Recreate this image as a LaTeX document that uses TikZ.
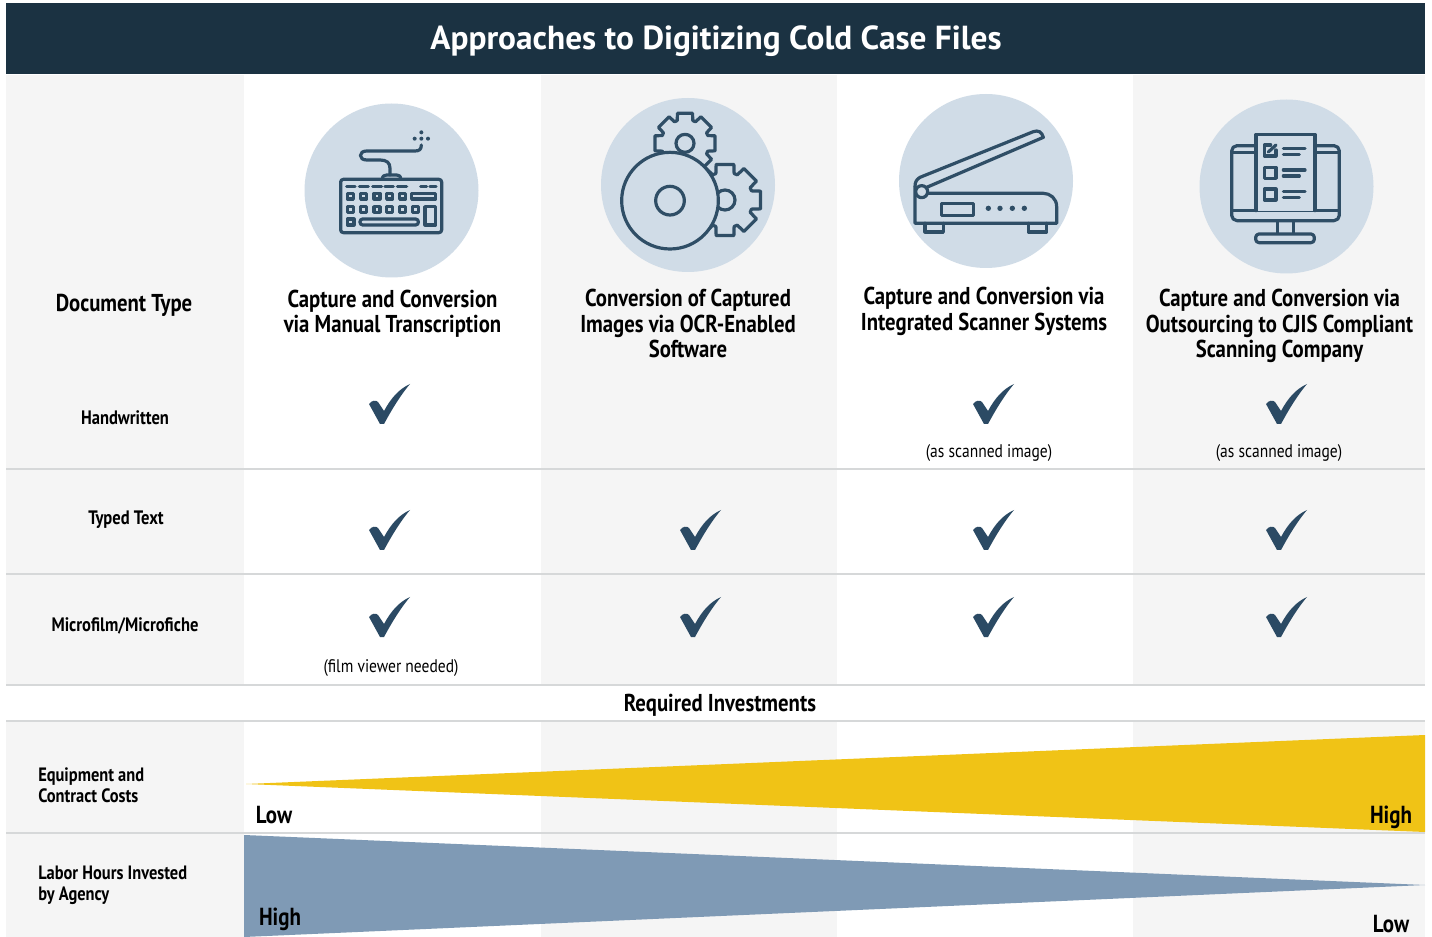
\documentclass[tikz,border=0pt]{standalone}
\usepackage{fontspec}
\setmainfont{PT Sans}
\newfontfamily\narrowb[FakeStretch=0.85]{PT Sans Bold}
\newfontfamily\narrowr[FakeStretch=0.85]{PT Sans}
\newfontfamily\fullb{PT Sans Bold}
\definecolor{headbar}{HTML}{1B3242}
\definecolor{band}{HTML}{F5F5F5}
\definecolor{rule}{HTML}{D6D8D9}
\definecolor{disc}{HTML}{D0DCE7}
\definecolor{ink}{HTML}{2F4E66}
\definecolor{tick}{HTML}{2B4A64}
\definecolor{gold}{HTML}{F0C316}
\definecolor{steel}{HTML}{7F9AB5}
\tikzset{
  title/.style={font=\fullb\fontsize{25}{28}\selectfont,text=white},
  colhead/.style={font=\narrowb\fontsize{18.3}{19.1}\selectfont,align=center,text=black},
  rowlabel/.style={font=\narrowb\fontsize{14.6}{16}\selectfont,align=center,text=black},
  leftlabel/.style={font=\narrowb\fontsize{14.5}{16}\selectfont,align=left,anchor=west,inner sep=0pt,text=black},
  note/.style={font=\narrowr\fontsize{13.7}{16}\selectfont,text=black},
  level/.style={font=\narrowb\fontsize{18.5}{20}\selectfont,inner sep=0pt,text=black},
  hline/.style={rule,line width=1.5pt},
  icon/.style={ink,line width=2.4pt,line join=round,line cap=round},
  pics/tickmark/.style={code={
    \fill[tick] (-20,-1) .. controls (-17,-5) and (-13,-5) .. (-11,-3)
      -- (-5,6) .. controls (2,-7) and (10,-16) .. (21,-21)
      .. controls (10,-8) and (1,8) .. (-5,19) -- (-9,19) -- cycle;
  }}
}
\newcommand{\gearpath}[5]{% cx cy outer root hole
  \begin{scope}[shift={(#1,#2)}]
    \draw[icon] (90-14:#3) \foreach \a in {90,135,...,405}{ -- (\a-14:#3) -- (\a+14:#3) -- (\a+19:#4) -- (\a+45-19:#4) } -- cycle;
    \draw[icon] (0,0) circle[radius=#5];
  \end{scope}}
\begin{document}
\begin{tikzpicture}[x=0.75pt,y=-0.75pt]
\useasboundingbox (0,0) rectangle (1432,937);
\fill[white] (0,0) rectangle (1432,937);
% column bands
\fill[band] (6,75) rectangle (244,685);
\fill[band] (541,75) rectangle (837,685);
\fill[band] (1133,75) rectangle (1425,685);
\fill[band] (6,721) rectangle (244,937);
\fill[band] (541,721) rectangle (837,937);
\fill[band] (1133,721) rectangle (1425,937);
% header
\fill[headbar] (6,3) rectangle (1425,74);
\node[title] (ttl) at (716,41) {Approaches to Digitizing Cold Case Files};
% rules
\foreach \yy in {469,574,685,721,833} \draw[hline] (6,\yy) -- (1425,\yy);
% discs
\fill[disc] (391.5,190.5) circle[radius=87];
\fill[disc] (688,185) circle[radius=87];
\fill[disc] (986,181) circle[radius=87];
\fill[disc] (1286.5,186.5) circle[radius=87];
% keyboard icon
\begin{scope}[shift={(290,90)},x=0.25pt,y=-0.25pt]
  \draw[icon,rounded corners=2pt] (152,268) rectangle (455,428);
  \draw[icon] (277,268) .. controls (277,258) and (283,255) .. (290,255) -- (320,255) .. controls (327,255) and (332,258) .. (332,268);
  \draw[icon] (300,255) -- (300,235) .. controls (300,218) and (290,210) .. (270,210) -- (230,210)
     .. controls (205,210) and (205,183) .. (230,183) -- (375,183) .. controls (388,183) and (394,178) .. (394,165);
  \foreach \xx/\yy in {394/127,374/146,394/146,414/146} \fill[ink] (\xx,\yy) circle[radius=6];
  \foreach \p/\q in {170/195,208/235,248/275,285/310,322/350,392/410,420/438} \draw[icon] (\p,290) -- (\q,290);
  \foreach \xx in {172,212,252,290,329} \draw[icon] (\xx,310) rectangle ++(18,17);
  \draw[icon] (365,310) rectangle (437,327);
  \foreach \xx in {172,212,252,290,329,367} \draw[icon] (\xx,350) rectangle ++(18,17);
  \draw[icon] (405,350) rectangle (437,405);
  \draw[icon] (172,387) rectangle ++(20,18);
  \draw[icon,rounded corners=2pt] (210,387) rectangle (385,405);
\end{scope}
% gears and disc icon
\begin{scope}[shift={(290,90)},x=0.25pt,y=-0.25pt]
  \gearpath{1185}{160}{93}{72}{27}
  \gearpath{1305}{330}{110}{84}{30}
  \draw[icon,fill=disc] (1140,332) circle[radius=145];
  \draw[icon] (1140,332) circle[radius=43];
\end{scope}
% scanner icon
\begin{scope}[shift={(880,90)},x=0.25pt,y=-0.25pt]
  \draw[icon] (105,290) -- (105,400) -- (530,400) -- (530,350) .. controls (530,325) and (510,310) .. (490,310) -- (145,310);
  \draw[icon] (105,290) .. controls (105,275) and (110,268) .. (120,262) -- (460,125) .. controls (475,120) and (485,125) .. (490,142) -- (140,292);
  \draw[icon,fill=disc] (125,305) circle[radius=18];
  \draw[icon] (185,340) rectangle (280,377);
  \foreach \xx in {325,360,397,433} \fill[ink] (\xx,355) circle[radius=8];
  \draw[icon] (135,400) -- (135,426) -- (190,426) -- (190,400);
  \draw[icon] (445,400) -- (445,426) -- (500,426) -- (500,400);
\end{scope}
% monitor icon
\begin{scope}[shift={(880,90)},x=0.25pt,y=-0.25pt]
  \draw[icon,rounded corners=4pt] (1055,167) rectangle (1378,392);
  \draw[icon] (1055,362) -- (1378,362);
  \draw[icon] (1058,187) -- (1128,187);
  \draw[icon] (1305,187) -- (1375,187);
  \draw[icon,fill=disc] (1128,362) -- (1128,133) -- (1305,133) -- (1305,362);
  \draw[icon] (1192,392) -- (1192,430);
  \draw[icon] (1240,392) -- (1240,430);
  \draw[icon,rounded corners=2.5pt] (1127,432) rectangle (1303,458);
  \draw[icon] (1188,180) -- (1188,198) -- (1153,198) -- (1153,165) -- (1172,165);
  \draw[icon] (1165,186) -- (1188,165);
  \foreach \yy/\zz in {175/193,240/258,305/322}{
    \draw[icon] (1210,\yy) -- (1275,\yy);
    \draw[icon] (1210,\zz) -- (1258,\zz);
  }
  \draw[icon] (1153,232) rectangle (1188,265);
  \draw[icon] (1153,297) rectangle (1188,330);
\end{scope}
% column headers
\node[colhead] (h0) at (124,305.5) {Document Type};
\node[colhead] (h1) at (392.5,313.5) {Capture and Conversion\\via Manual Transcription};
\node[colhead] (h2) at (688,323.5) {Conversion of Captured\\Images via OCR-Enabled\\Software};
\node[colhead] (h3) at (984,311.5) {Capture and Conversion via\\Integrated Scanner Systems};
\node[colhead] (h4) at (1279.5,326) {Capture and Conversion via\\Outsourcing to CJIS Compliant\\Scanning Company};
% row labels
\node[rowlabel] (r1) at (125,418) {Handwritten};
\node[rowlabel] (r2) at (126,520) {Typed Text};
\node[rowlabel] (r3) at (125,626) {Microfilm/Microfiche};
% ticks
\foreach \xx in {389,993,1286} \pic at (\xx,405) {tickmark};
\foreach \xx in {389,700,993,1286} \pic at (\xx,531) {tickmark};
\foreach \xx in {389,700,993,1286} \pic at (\xx,618) {tickmark};
% notes
\node[note] (n1) at (989,453) {(as scanned image)};
\node[note] (n2) at (1279,453) {(as scanned image)};
\node[note] (n3) at (391,668) {(film viewer needed)};
% investments
\node[colhead] (ri) at (720,705.5) {Required Investments};
\fill[gold] (246,784) -- (1425,735) -- (1425,832) -- cycle;
\fill[steel] (244,835) -- (1425,885) -- (244,937) -- cycle;
\node[leftlabel] (e1) at (38,785) {Equipment and\\Contract Costs};
\node[leftlabel] (e2) at (38,885.5) {Labor Hours Invested\\by Agency};
\node[level] (l1) at (274,815.5) {Low};
\node[level] (l2) at (1391,817) {High};
\node[level] (l3) at (280,919) {High};
\node[level] (l4) at (1391,924) {Low};
\end{tikzpicture}
\end{document}
